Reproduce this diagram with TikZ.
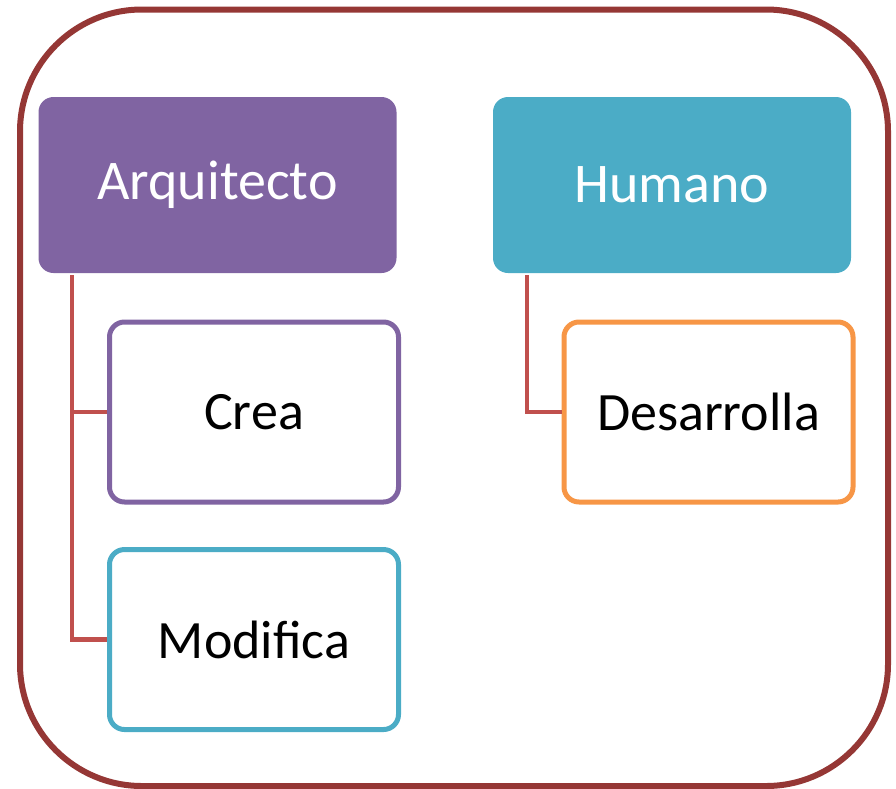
\documentclass[tikz,border=0pt]{standalone}
\usepackage{fontspec}
\setmainfont{Carlito}
\usepackage{xcolor}
\definecolor{framered}{HTML}{953735}
\definecolor{linkred}{HTML}{C0504D}
\definecolor{archpurple}{HTML}{8064A2}
\definecolor{humanblue}{HTML}{4BACC6}
\definecolor{devorange}{HTML}{F79646}
\tikzset{
  headbox/.style={rounded corners=15, minimum width=358, minimum height=176,
    inner sep=0pt, text=white, font=\fontsize{56}{60}\selectfont},
  leafbox/.style={draw, line width=5, fill=white, rounded corners=15,
    minimum width=289, minimum height=180, inner sep=0pt,
    font=\fontsize{54}{60}\selectfont},
  link/.style={draw=linkred, line width=4.5}
}
\begin{document}
\begin{tikzpicture}[x=1pt,y=-1pt]
\useasboundingbox (0,0) rectangle (896,788);
\draw [framered, line width=6, rounded corners=122] (20,9.5) rectangle (888,786);
\node [headbox, fill=archpurple] (arq) at (217.5,185) {Arquitecto};
\node [headbox, fill=humanblue] (hum) at (672,185) {Humano};
\node [leafbox, draw=archpurple] (crea) at (254,412) {Crea};
\node [leafbox, draw=humanblue] (mod) at (254,639.5) {Modifica};
\node [leafbox, draw=devorange] (des) at (708.5,412) {Desarrolla};
\coordinate (arqroot) at (72,275);
\coordinate (humroot) at (527,275);
\draw [link] (arqroot) |- (crea.west);
\draw [link] (arqroot) |- (mod.west);
\draw [link] (humroot) |- (des.west);
\end{tikzpicture}
\end{document}
